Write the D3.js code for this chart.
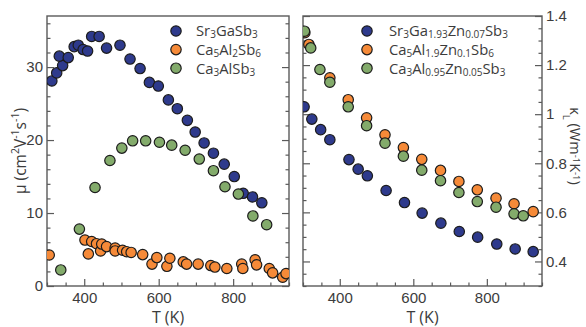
<!DOCTYPE html>
<html>
<head>
<meta charset="utf-8">
<script src="https://cdn.jsdelivr.net/npm/d3@7"></script>
<style>
  html, body { margin: 0; padding: 0; background: #fff; }
  svg { display: block; font-family: "Open Sans", "Liberation Sans", sans-serif; }
</style>
</head>
<body>
<svg id="chart" width="586" height="327"></svg>
<script>
// ---- Mobility (left panel) ----
const srGaT  = [313, 326, 342, 333, 357, 373, 384, 397, 409, 420, 440, 460, 496, 523, 550, 575, 599, 626, 650, 677, 698, 722, 747, 776, 803, 827, 852, 877];
const srGaMu = [28.1, 29.2, 30.2, 31.5, 31.3, 32.8, 33.0, 32.4, 32.2, 34.2, 34.2, 32.6, 33.0, 31.1, 29.8, 27.9, 27.4, 25.5, 24.3, 22.7, 21.1, 19.6, 18.2, 16.7, 15.0, 12.7, 12.2, 11.4];

const caAlT  = [337, 387, 429, 469, 501, 530, 565, 602, 635, 671, 709, 747, 778, 814, 853, 890];
const caAlMu = [2.2, 7.8, 13.5, 17.2, 18.9, 19.9, 19.9, 19.7, 19.3, 18.6, 17.4, 15.8, 13.6, 12.6, 9.6, 8.4];

const ca5T  = [306, 402, 411, 420, 433, 444, 447, 460, 483, 483, 503, 514, 526, 557, 582, 595, 622, 630, 666, 675, 706, 740, 751, 783, 823, 826, 859, 863, 897, 906, 933, 942];
const ca5Mu = [4.25, 6.3, 4.4, 6.1, 5.8, 4.8, 5.75, 5.4, 5.2, 4.8, 4.9, 4.7, 4.6, 4.3, 3.0, 3.9, 2.7, 3.8, 3.3, 3.0, 3.0, 2.8, 2.6, 2.4, 3.0, 2.4, 3.6, 2.9, 2.4, 1.8, 1.2, 1.7];

// ---- Lattice thermal conductivity (right panel) ----
const srZnT = [303, 324, 348, 373, 425, 450, 475, 526, 576, 624, 675, 725, 775, 827, 877, 926];
const srZnK = [1.03, 0.98, 0.937, 0.896, 0.815, 0.776, 0.749, 0.689, 0.640, 0.597, 0.556, 0.522, 0.499, 0.471, 0.451, 0.440];

const ca5ZnT = [305, 316, 373, 423, 473, 523, 573, 623, 674, 724, 774, 825, 874, 926];
const ca5ZnK = [1.332, 1.284, 1.148, 1.059, 0.985, 0.916, 0.864, 0.816, 0.771, 0.726, 0.692, 0.658, 0.635, 0.603];

const ca3ZnT = [304, 321, 346, 373, 423, 473, 523, 573, 623, 674, 724, 774, 825, 874, 899];
const ca3ZnK = [1.338, 1.27, 1.182, 1.13, 1.03, 0.953, 0.882, 0.829, 0.772, 0.729, 0.681, 0.644, 0.621, 0.594, 0.586];

// ---- Axis ticks ----
const tTicks = [400, 600, 800];
const muTicks = [0, 10, 20, 30];
const kTicks = [0.4, 0.6, 0.8, 1, 1.2, 1.4];

const BLUE = "#2e3a8c", ORANGE = "#f68a38", GREEN = "#83ab6b";
const TEXT = "#3c3c3c", FRAME = "#5a5a5a";

const svg = d3.select("#chart");

// scales
const xL = d3.scaleLinear().domain([300, 950]).range([47, 289]);
const yL = d3.scaleLinear().domain([0, 37]).range([286, 16]);
const xR = d3.scaleLinear().domain([300, 950]).range([303, 542]);
const yR = d3.scaleLinear().domain([0.3, 1.4]).range([286, 16]);

function zip(a, b) { return a.map((v, i) => [v, b[i]]); }

// inward-pointing axis with major + minor ticks
function drawAxis(g, axisFn, scale, majors, minorStep, labels, fmt, pad) {
  const [d0, d1] = scale.domain();
  const minors = d3.range(Math.ceil(d0 / minorStep - 1e-9) * minorStep, d1 + 1e-9, minorStep)
    .filter(v => !majors.some(m => Math.abs(m - v) < 1e-6));
  const minor = g.append("g").call(axisFn(scale).tickValues(minors).tickSize(-3.5).tickSizeOuter(0).tickFormat(""));
  const major = g.append("g").call(axisFn(scale).tickValues(majors).tickSize(-7).tickSizeOuter(0)
    .tickPadding(pad).tickFormat(labels ? fmt : ""));
  [minor, major].forEach(s => {
    s.select(".domain").remove();
    s.selectAll(".tick line").attr("stroke", FRAME).attr("stroke-width", 1.2);
  });
  major.selectAll(".tick text").attr("fill", TEXT).attr("font-size", 15).attr("font-family", null);
  return major;
}

function panel(x, y, yTicks, yMinor, yLabelSide, yFmt) {
  const g = svg.append("g");
  const [x0, x1] = x.range(), [y0, y1] = y.range();
  // bottom axis (labelled)
  drawAxis(g.append("g").attr("transform", `translate(0,${y0})`), d3.axisBottom, x, tTicks, 50, true, d3.format("d"), 6);
  // left / right axes
  const lf = yLabelSide === "left";
  drawAxis(g.append("g").attr("transform", `translate(${x0},0)`), d3.axisLeft, y, yTicks, yMinor, lf, yFmt, 4);
  drawAxis(g.append("g").attr("transform", `translate(${x1},0)`), d3.axisRight, y, yTicks, yMinor, !lf, yFmt, 4);
  // frame
  g.append("rect").attr("x", x0).attr("y", y1).attr("width", x1 - x0).attr("height", y0 - y1)
    .attr("fill", "none").attr("stroke", FRAME).attr("stroke-width", 1.4);
  // x title
  g.append("text").attr("x", (x0 + x1) / 2).attr("y", 323).attr("text-anchor", "middle")
    .attr("fill", TEXT).attr("font-size", 16).text("T (K)");
  return g;
}

function dots(g, data, x, y, color) {
  g.append("g").selectAll("circle").data(data).join("circle")
    .attr("cx", d => x(d[0])).attr("cy", d => y(d[1])).attr("r", 5.2)
    .attr("fill", color).attr("stroke", "#1c1c1c").attr("stroke-width", 1.2);
}

panel(xL, yL, muTicks, 2, "left", d3.format("d"));
panel(xR, yR, kTicks, 0.05, "right", v => (v === 1 ? "1" : d3.format(".1f")(v)));

// clip to plot areas
svg.append("clipPath").attr("id", "clipL").append("rect").attr("x", 47).attr("y", 16).attr("width", 242).attr("height", 270);
svg.append("clipPath").attr("id", "clipR").append("rect").attr("x", 303).attr("y", 16).attr("width", 239).attr("height", 270);

const dl = svg.append("g").attr("clip-path", "url(#clipL)");
dots(dl, zip(srGaT, srGaMu), xL, yL, BLUE);
dots(dl, zip(caAlT, caAlMu), xL, yL, GREEN);
dots(dl, zip(ca5T, ca5Mu), xL, yL, ORANGE);

const dr = svg.append("g").attr("clip-path", "url(#clipR)");
dots(dr, zip(srZnT, srZnK), xR, yR, BLUE);
dots(dr, zip(ca5ZnT, ca5ZnK), xR, yR, ORANGE);
dots(dr, zip(ca3ZnT, ca3ZnK), xR, yR, GREEN);

// legend with chemical-formula subscripts
function formula(textSel, parts) {
  parts.forEach(p => {
    const isSub = /^[0-9.]+$/.test(p);
    textSel.append("tspan").attr("font-size", isSub ? 10 : 14.8)
      .attr("baseline-shift", isSub ? "-16%" : null).text(p);
  });
}
function legend(cx, tx, entries) {
  entries.forEach((e, i) => {
    const cy = 31 + i * 18.6;
    svg.append("circle").attr("cx", cx).attr("cy", cy).attr("r", 5.2)
      .attr("fill", e.color).attr("stroke", "#1c1c1c").attr("stroke-width", 1.2);
    const t = svg.append("text").attr("x", tx).attr("y", cy + 5.3).attr("fill", TEXT);
    formula(t, e.parts);
  });
}
legend(176, 196, [
  { color: BLUE,   parts: ["Sr", "3", "GaSb", "3"] },
  { color: ORANGE, parts: ["Ca", "5", "Al", "2", "Sb", "6"] },
  { color: GREEN,  parts: ["Ca", "3", "AlSb", "3"] }
]);
legend(367, 389, [
  { color: BLUE,   parts: ["Sr", "3", "Ga", "1.93", "Zn", "0.07", "Sb", "3"] },
  { color: ORANGE, parts: ["Ca", "5", "Al", "1.9", "Zn", "0.1", "Sb", "6"] },
  { color: GREEN,  parts: ["Ca", "3", "Al", "0.95", "Zn", "0.05", "Sb", "3"] }
]);

// y-axis titles
const yt = svg.append("text").attr("transform", "translate(26,151) rotate(-90)")
  .attr("text-anchor", "middle").attr("fill", TEXT).attr("font-size", 15.5);
yt.append("tspan").text("μ (cm");
yt.append("tspan").attr("font-size", 10.5).attr("baseline-shift", "super").text("2");
yt.append("tspan").text("V");
yt.append("tspan").attr("font-size", 10.5).attr("baseline-shift", "super").text("-1");
yt.append("tspan").text("s");
yt.append("tspan").attr("font-size", 10.5).attr("baseline-shift", "super").text("-1");
yt.append("tspan").text(")");

const kt = svg.append("text").attr("transform", "translate(570,146) rotate(90)")
  .attr("text-anchor", "middle").attr("fill", TEXT).attr("font-size", 14.5);
kt.append("tspan").text("κ");
kt.append("tspan").attr("font-size", 9.5).attr("baseline-shift", "sub").text("L");
kt.append("tspan").text(" (Wm");
kt.append("tspan").attr("font-size", 9.5).attr("baseline-shift", "35%").text("-1");
kt.append("tspan").text("K");
kt.append("tspan").attr("font-size", 9.5).attr("baseline-shift", "35%").text("-1");
kt.append("tspan").text(")");
</script>
</body>
</html>
